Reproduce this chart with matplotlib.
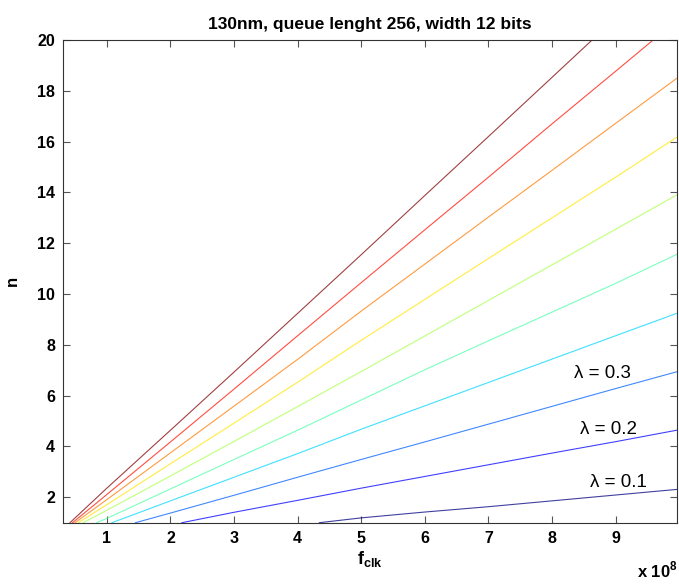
import matplotlib
matplotlib.use("Agg")
import matplotlib.pyplot as plt
import numpy as np

plt.rcParams['font.family'] = ['Liberation Sans', 'DejaVu Sans']
plt.rcParams['mathtext.fontset'] = 'custom'
plt.rcParams['mathtext.rm'] = 'Liberation Sans'
plt.rcParams['mathtext.bf'] = 'Liberation Sans:bold'

# x values in units of 1e8 Hz (f_clk), y = n
lambdas = [0.1, 0.2, 0.3, 0.4, 0.5, 0.6, 0.7, 0.8, 0.9, 1.0]

x_l01 = [4.34, 5, 6, 7, 8, 9, 9.96]
y_l01 = [1.0, 1.19, 1.42, 1.63, 1.86, 2.09, 2.31]

x_l02 = [2.18, 3, 4, 5, 6, 7, 8, 9, 9.96]
y_l02 = [1.0, 1.41, 1.88, 2.36, 2.82, 3.28, 3.74, 4.19, 4.64]

x_l03 = [1.45, 2, 3, 4, 5, 6, 7, 8, 9, 9.96]
y_l03 = [1.0, 1.38, 2.08, 2.79, 3.49, 4.18, 4.88, 5.58, 6.28, 6.94]

x_l04 = [1.08, 2, 3, 4, 5, 6, 7, 8, 9, 9.96]
y_l04 = [1.0, 1.86, 2.79, 3.72, 4.68, 5.60, 6.52, 7.44, 8.36, 9.24]

x_l05 = [0.84, 1, 2, 3, 4, 5, 6, 7, 8, 9, 9.96]
y_l05 = [1.0, 1.17, 2.33, 3.49, 4.64, 5.83, 7.02, 8.16, 9.29, 10.42, 11.56]

x_l06 = [0.63, 1, 2, 3, 4, 5, 6, 7, 8, 9, 9.96]
y_l06 = [1.0, 1.49, 2.84, 4.20, 5.57, 6.95, 8.35, 9.75, 11.15, 12.55, 13.9]

x_l07 = [0.55, 1, 2, 3, 4, 5, 6, 7, 8, 9, 9.96]
y_l07 = [1.0, 1.71, 3.32, 4.92, 6.53, 8.18, 9.79, 11.4, 13.0, 14.6, 16.17]

x_l08 = [0.50, 1, 2, 3, 4, 5, 6, 7, 8, 9, 9.96]
y_l08 = [1.0, 1.91, 3.75, 5.59, 7.43, 9.33, 11.18, 13.03, 14.87, 16.72, 18.49]

x_l09 = [0.46, 1, 2, 3, 4, 5, 6, 7, 8, 9, 9.59]
y_l09 = [1.0, 2.11, 4.18, 6.26, 8.36, 10.45, 12.53, 14.6, 16.7, 18.77, 20.0]

x_l10 = [0.42, 1, 2, 3, 4, 5, 6, 7, 8, 8.63]
y_l10 = [1.0, 2.36, 4.64, 6.93, 9.24, 11.55, 13.88, 16.2, 18.53, 20.0]

xs = [x_l01, x_l02, x_l03, x_l04, x_l05, x_l06, x_l07, x_l08, x_l09, x_l10]
ys = [y_l01, y_l02, y_l03, y_l04, y_l05, y_l06, y_l07, y_l08, y_l09, y_l10]

label_text = ['λ = 0.1', 'λ = 0.2', 'λ = 0.3']
label_x = [9.05, 8.89, 8.80]
label_y = [2.60, 4.68, 6.88]

x_ticks = [1, 2, 3, 4, 5, 6, 7, 8, 9]
y_ticks = [2, 4, 6, 8, 10, 12, 14, 16, 18, 20]

fig = plt.figure(figsize=(6.79, 5.84), dpi=100)
ax = fig.add_axes([63.3 / 679, 1 - 522.7 / 584, (676.7 - 63.3) / 679, (522.7 - 40) / 584])

cmap = plt.get_cmap('jet')
colors = cmap(np.linspace(0, 1, len(lambdas)))
for x, y, c in zip(xs, ys, colors):
    ax.plot(x, y, color=c, lw=0.8, alpha=0.75)

for t, lx, ly in zip(label_text, label_x, label_y):
    ax.text(lx, ly, t, ha='center', va='center', fontsize=13.5)

ax.set_xlim(0.315, 9.96)
ax.set_ylim(1, 20)
ax.set_xticks(x_ticks)
ax.set_yticks(y_ticks)
ax.set_xticklabels([str(v) for v in x_ticks], fontweight='bold', fontsize=11.5)
ax.set_yticklabels([str(v) for v in y_ticks], fontweight='bold', fontsize=11.5)
ax.tick_params(direction='in', top=True, right=True, length=5, width=0.8, color='#555555', pad=6)
for s in ax.spines.values():
    s.set_linewidth(0.8)
    s.set_color('#333333')

ax.set_title('130nm, queue lenght 256, width 12 bits', fontweight='bold', fontsize=12.5, pad=8)
ax.set_ylabel('n', fontweight='bold', fontsize=12, labelpad=12)
ax.set_xlabel(r'$\mathbf{f}_{\mathbf{clk}}$', fontsize=13, labelpad=2)
fig.text(678 / 679, 1 - 570 / 584, r'x 10$^{\mathbf{8}}$', ha='right', va='center',
         fontweight='bold', fontsize=12)

fig.savefig('out.png', dpi=100)
